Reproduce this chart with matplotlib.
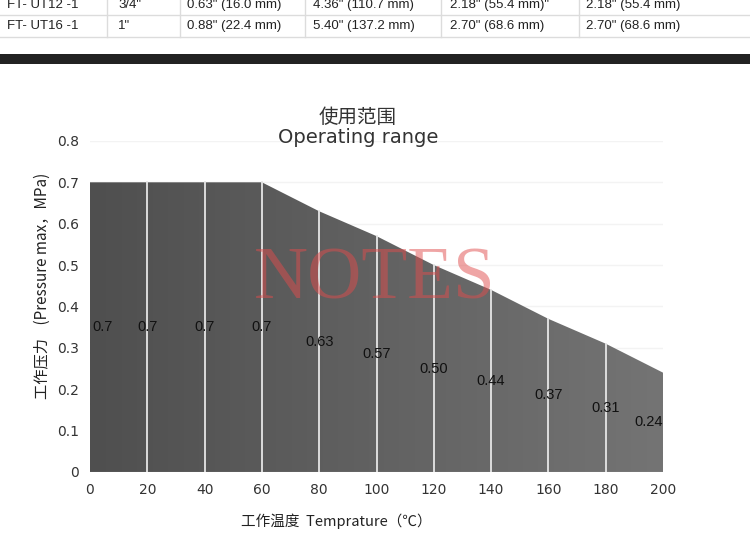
import numpy as np
import matplotlib
matplotlib.use("Agg")
from matplotlib import pyplot as plt
from matplotlib.patches import Polygon, Rectangle

plt.rcParams['font.family'] = ['DejaVu Sans', 'Noto Sans CJK SC']

# chart data
temps = [0, 20, 40, 60, 80, 100, 120, 140, 160, 180, 200]
pressure = [0.7, 0.7, 0.7, 0.7, 0.63, 0.57, 0.50, 0.44, 0.37, 0.31, 0.24]
point_labels = ['0.7', '0.7', '0.7', '0.7', '0.63', '0.57', '0.50', '0.44', '0.37', '0.31', '0.24']
yticks = [0, 0.1, 0.2, 0.3, 0.4, 0.5, 0.6, 0.7, 0.8]
ytick_labels = ['0', '0.1', '0.2', '0.3', '0.4', '0.5', '0.6', '0.7', '0.8']

# table rows above the chart (cut off in the screenshot)
table_rows = [
    ['FT- UT12 -1', '3/4"', '0.63" (16.0 mm)', '4.36" (110.7 mm)', '2.18" (55.4 mm)"', '2.18" (55.4 mm)'],
    ['FT- UT16 -1', '1"', '0.88" (22.4 mm)', '5.40" (137.2 mm)', '2.70" (68.6 mm)', '2.70" (68.6 mm)'],
]
col_x = [7, 118, 187, 313, 450, 586]
col_lines = [107, 180, 305, 441, 579]
row_y = [5, 26]

fig = plt.figure(figsize=(7.5, 5.4), dpi=100)

# background layer in pixel coords for the table and the black bar
bg = fig.add_axes([0, 0, 1, 1])
bg.set_xlim(0, 750)
bg.set_ylim(540, 0)
bg.axis('off')
for yl in [15, 37]:
    bg.plot([0, 750], [yl, yl], color='#dcdcdc', lw=1)
for xl in col_lines:
    bg.plot([xl, xl], [-2, 37], color='#dcdcdc', lw=1)
for r, row in enumerate(table_rows):
    for c, txt in enumerate(row):
        bg.text(col_x[c], row_y[r], txt, fontsize=9.5, family='Liberation Sans',
                color='#222222', va='center', ha='left')
bg.add_patch(Rectangle((0, 54), 750, 10, color='#222222', lw=0))

ax = fig.add_axes([0.12, 0.126, 0.764, 0.613])
ax.set_xlim(0, 200)
ax.set_ylim(0, 0.8)

for yv in yticks:
    ax.axhline(yv, color='#f3f3f3', lw=1, zorder=0)

# gray gradient fill clipped to the area under the curve
grad = np.linspace(0, 1, 256).reshape(1, -1)
cmap = matplotlib.colors.LinearSegmentedColormap.from_list('g', ['#4f4f4f', '#747474'])
poly = Polygon(list(zip(temps, pressure)) + [(200, 0), (0, 0)], closed=True,
               facecolor='none', edgecolor='none')
ax.add_patch(poly)
im = ax.imshow(grad, extent=[0, 200, 0, 0.7], aspect='auto', cmap=cmap, zorder=1)
im.set_clip_path(poly)

for t, p in zip(temps[1:-1], pressure[1:-1]):
    ax.plot([t, t], [0, p], color='#e6e6e6', lw=1.3, zorder=2)

for t, p, lab in zip(temps, pressure, point_labels):
    ha = 'center'
    if t == temps[0]:
        ha = 'left'
    elif t == temps[-1]:
        ha = 'right'
    ax.text(t + (1 if ha == 'left' else 0), p / 2, lab, ha=ha, va='center',
            fontsize=10.5, family='Liberation Sans', color='#111111', zorder=3)

for s in ax.spines.values():
    s.set_visible(False)
ax.set_xticks(temps)
ax.set_yticks(yticks)
ax.set_yticklabels(ytick_labels)
ax.tick_params(length=0, labelsize=10, colors='#333333', pad=8)

fig.text(0.477, 0.782, '使用范围', ha='center', va='center', fontsize=14,
         family=['Noto Sans CJK SC'], color='#333333')
fig.text(0.477, 0.745, 'Operating range', ha='center', va='center', fontsize=14,
         color='#333333')
fig.text(0.448, 0.034, '工作温度  Temprature（℃）', ha='center', va='center',
         fontsize=10.5, family=['Noto Sans CJK SC', 'DejaVu Sans'], color='#222222')
fig.text(0.057, 0.47, '工作压力    (Pressure max，MPa)', ha='center', va='center',
         rotation=90, fontsize=11, family=['Noto Sans CJK SC', 'DejaVu Sans'], color='#222222')

# watermark
fig.text(0.499, 0.48, 'NOTES', ha='center', va='center', fontsize=54,
         family='Liberation Serif', color=(0.88, 0.3, 0.3), alpha=0.5)

fig.savefig('out.png', dpi=100)
